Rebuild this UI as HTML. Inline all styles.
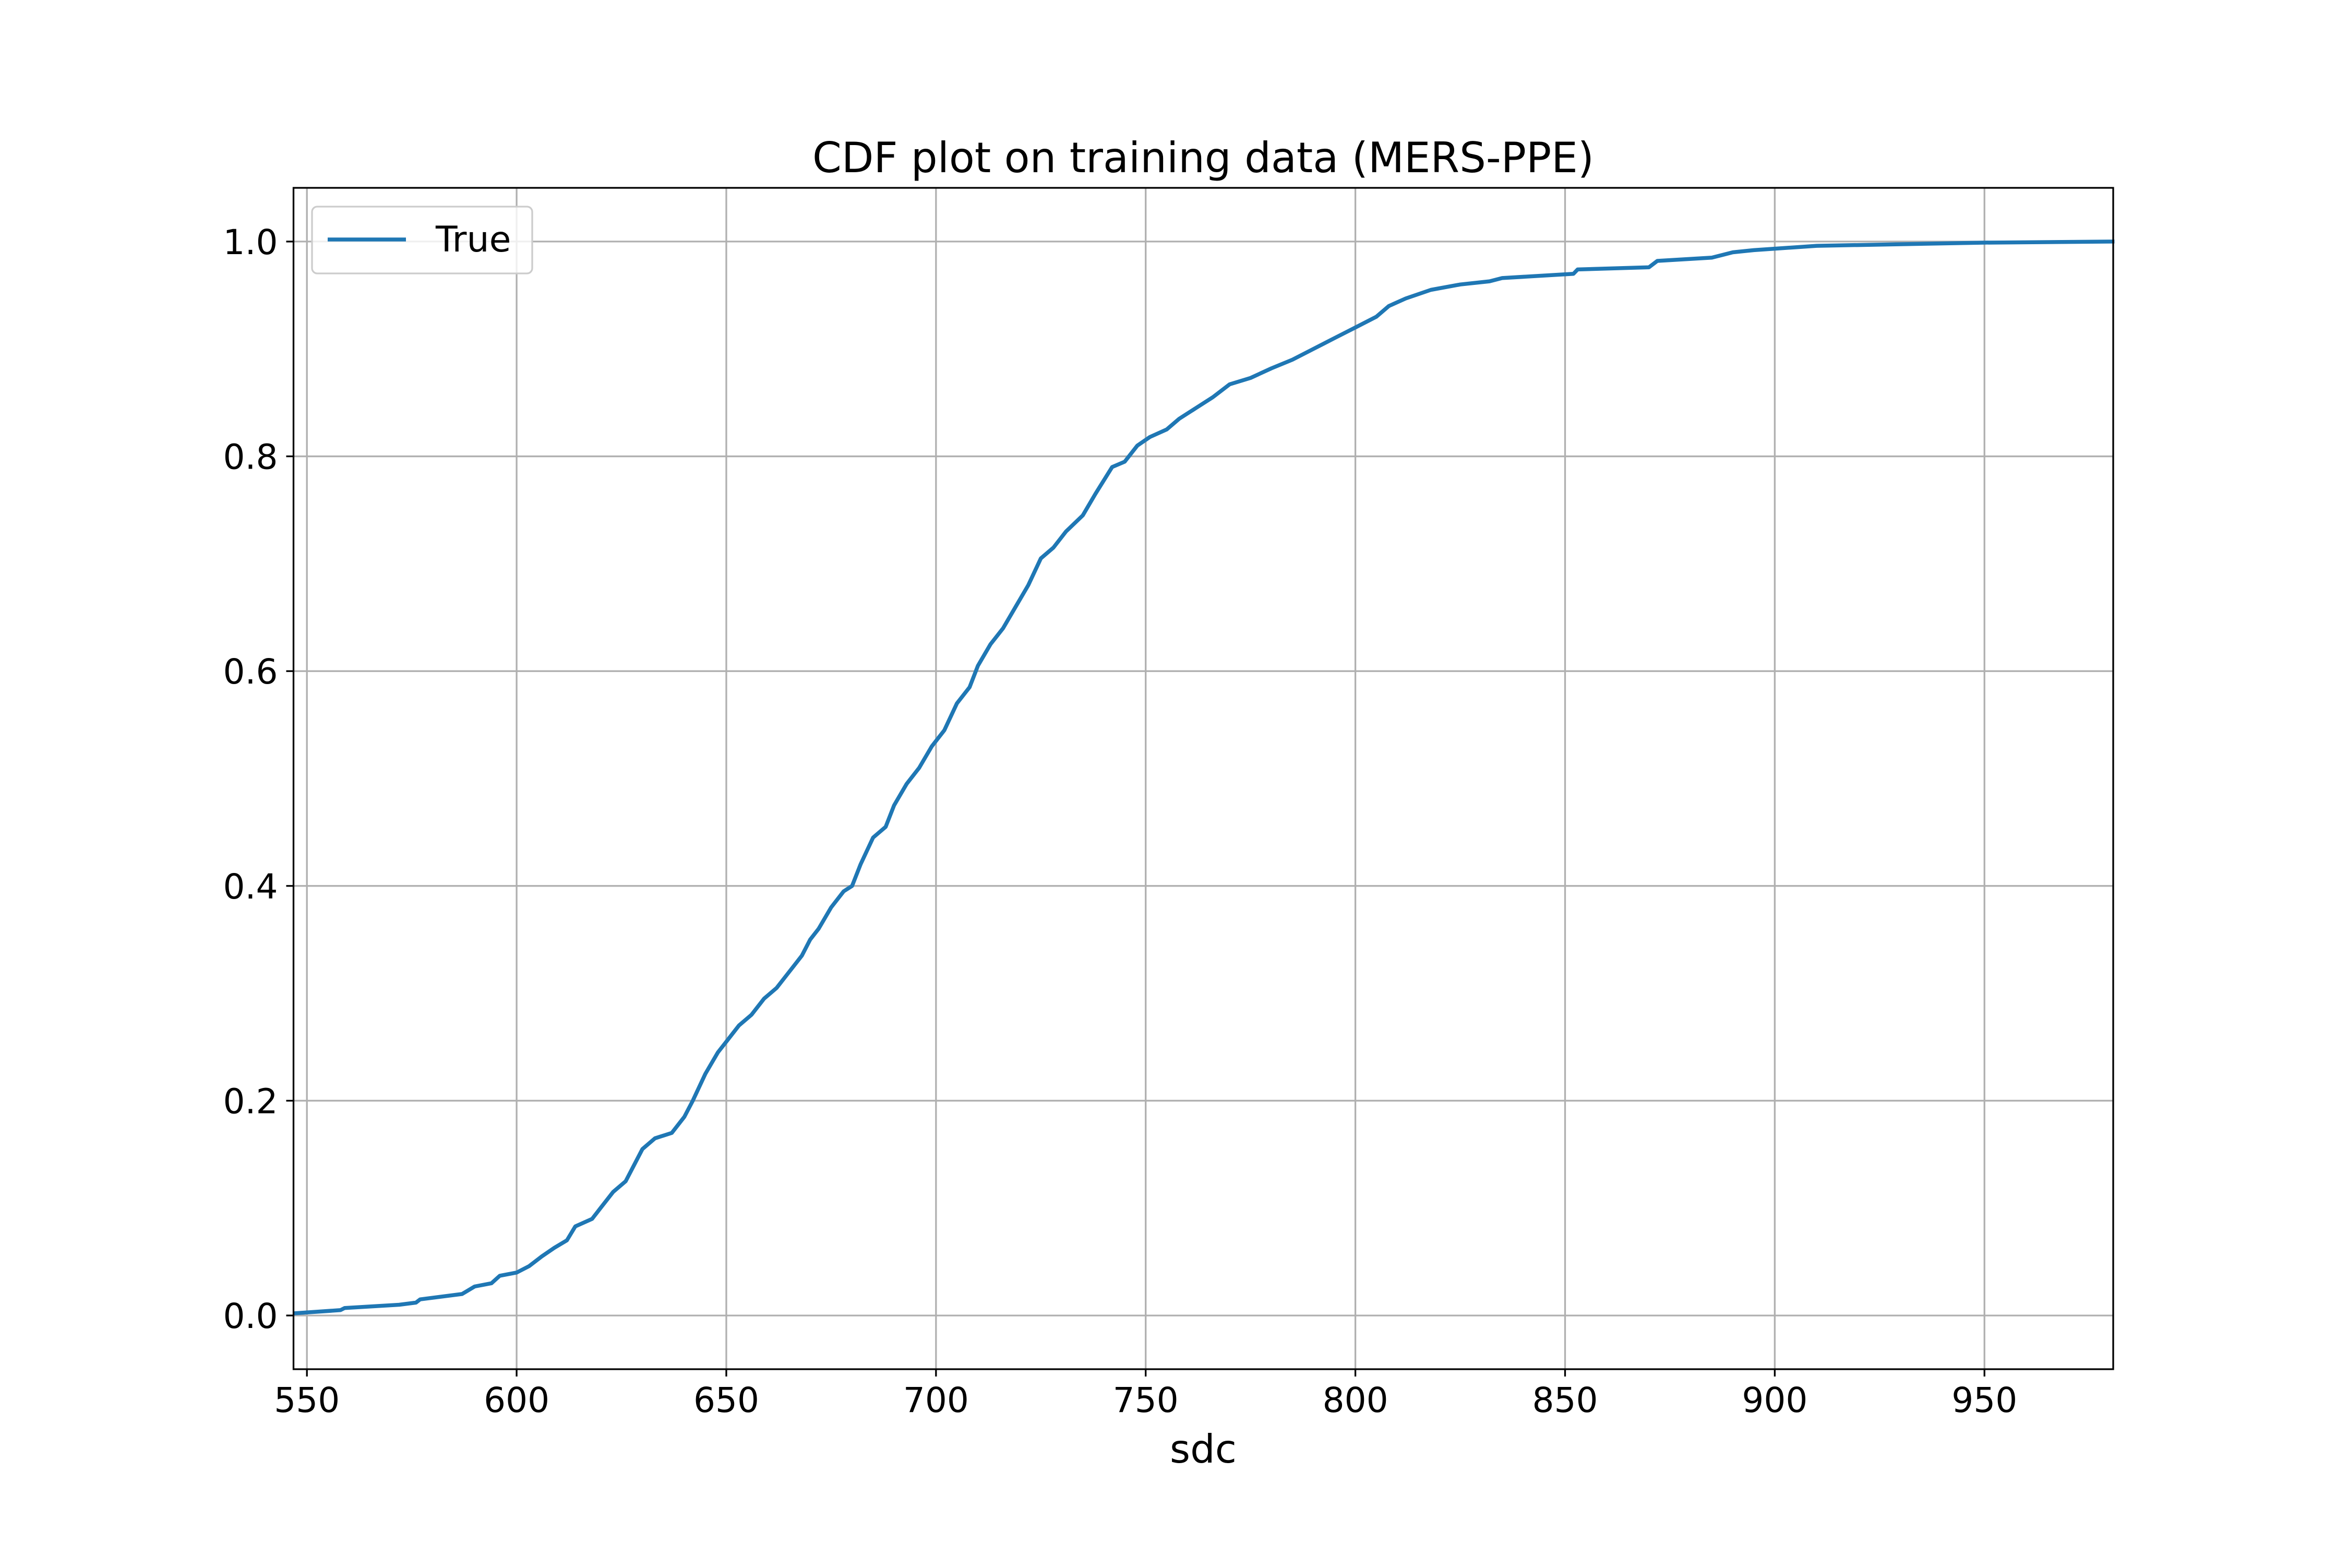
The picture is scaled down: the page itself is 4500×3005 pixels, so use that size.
<!DOCTYPE html>
<html><head><meta charset="utf-8"><style>
html,body{margin:0;padding:0;background:#fff;}
svg text{font-family:"DejaVu Sans","Liberation Sans",sans-serif;fill:#000;}
</style></head><body>
<svg id="chart" width="4500" height="3000" viewBox="0 0 4500 3000" xmlns="http://www.w3.org/2000/svg">
<rect width="4500" height="3000" fill="#fff"/>
<g id="grid"></g>
<g id="ticks"></g>
<path id="line" fill="none" stroke="#1f77b4" stroke-width="7.5" stroke-linejoin="round"/>
<rect x="562.5" y="360" width="3487.5" height="2264" fill="none" stroke="#000" stroke-width="3.3"/>
<text x="2306" y="330" font-size="80" text-anchor="middle">CDF plot on training data (MERS-PPE)</text>
<text x="2306" y="2803" font-size="75" text-anchor="middle">sdc</text>
<g>
<rect x="598" y="396" width="422" height="128" rx="10" fill="#fff" fill-opacity="0.8" stroke="#ccc" stroke-width="3.3"/>
<line x1="628" y1="459" x2="778" y2="459" stroke="#1f77b4" stroke-width="7.5"/>
<text x="835" y="482" font-size="68">True</text>
</g>
</svg>
<script>
const xs=[546.8,558,559,572,576,577,587,590,594,596,600,603,606,609,612,614,618,620,623,626,628,630,633,637,640,642,645,648,650,653,656,659,662,665,668,670,672,675,678,680,682,685,688,690,693,696,699,702,705,708,710,713,716,719,722,725,728,731,735,738,742,745,748,751,755,758,762,766,770,775,780,785,790,795,800,805,808,812,818,825,832,835,852,853,870,872,885,890,895,910,950,981];
const ys=[0.002,0.005,0.007,0.01,0.012,0.015,0.02,0.027,0.03,0.037,0.04,0.046,0.055,0.063,0.07,0.083,0.09,0.1,0.115,0.125,0.14,0.155,0.165,0.17,0.185,0.2,0.225,0.245,0.255,0.27,0.28,0.295,0.305,0.32,0.335,0.35,0.36,0.38,0.395,0.4,0.42,0.445,0.455,0.475,0.495,0.51,0.53,0.545,0.57,0.585,0.605,0.625,0.64,0.66,0.68,0.705,0.715,0.73,0.745,0.765,0.79,0.795,0.81,0.818,0.825,0.835,0.845,0.855,0.867,0.873,0.882,0.89,0.9,0.91,0.92,0.93,0.94,0.947,0.955,0.96,0.963,0.966,0.97,0.974,0.976,0.982,0.985,0.99,0.992,0.996,0.999,1.0];
const xTicks=[550,600,650,700,750,800,850,900,950];
const yTicks=[0.0,0.2,0.4,0.6,0.8,1.0];
const L=562.5,R=4050,T=360,B=2624,X0=546.8,X1=980.7,Y0=-0.05,Y1=1.05;
function sx(v){return L+(v-X0)/(X1-X0)*(R-L);}
function sy(v){return B-(v-Y0)/(Y1-Y0)*(B-T);}
const NS="http://www.w3.org/2000/svg";
const grid=document.getElementById('grid'),ticks=document.getElementById('ticks');
function mk(tag,attrs,parent){const e=document.createElementNS(NS,tag);for(const k in attrs)e.setAttribute(k,attrs[k]);parent.appendChild(e);return e;}
xTicks.forEach(v=>{const x=sx(v);
const g=mk('line',{x1:x,x2:x,y1:T,y2:B,stroke:'#b0b0b0','stroke-width':3.3},grid);


const t=mk('line',{x1:x,x2:x,y1:B,y2:B+14,stroke:'#000','stroke-width':3.3},ticks);


const l=mk('text',{x:x,y:B+82,'font-size':66,'text-anchor':'middle'},ticks);l.textContent=v;

});
yTicks.forEach(v=>{const y=sy(v);
const g=mk('line',{x1:L,x2:R,y1:y,y2:y,stroke:'#b0b0b0','stroke-width':3.3},grid);


const t=mk('line',{x1:L-14,x2:L,y1:y,y2:y,stroke:'#000','stroke-width':3.3},ticks);


const l=mk('text',{x:L-30,y:y+24,'font-size':66,'text-anchor':'end'},ticks);l.textContent=v.toFixed(1);

});
document.getElementById('line').setAttribute('d',xs.map((v,i)=>(i?'L':'M')+sx(v).toFixed(1)+' '+sy(ys[i]).toFixed(1)).join(' '));
</script>
</body></html>
